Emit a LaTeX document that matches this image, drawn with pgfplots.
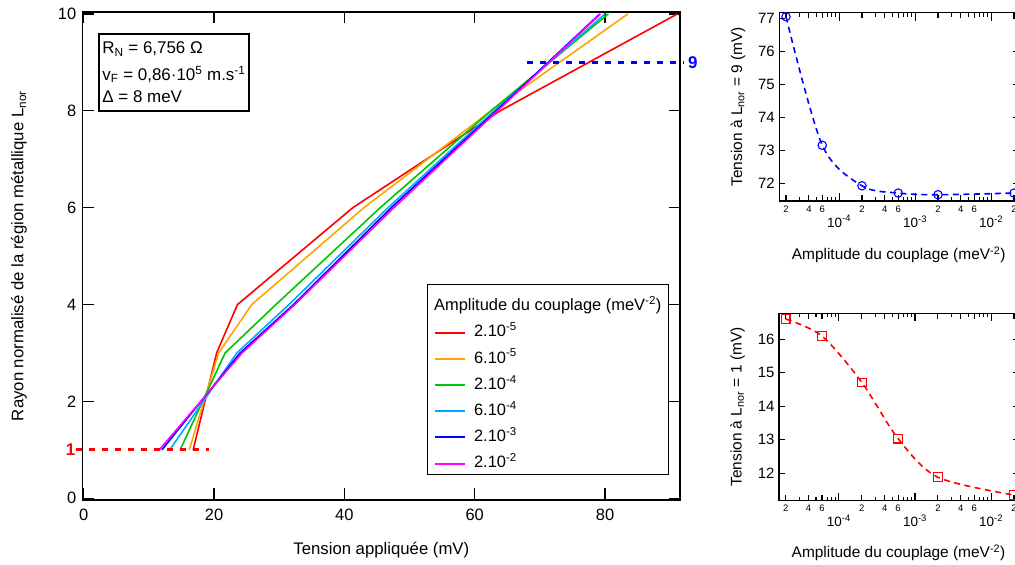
\documentclass[border=0pt]{standalone}
\usepackage{fontspec}
\setmainfont{Liberation Sans}
\usepackage{pgfplots}
\pgfplotsset{compat=1.18}
\definecolor{cRed}{RGB}{255,0,0}
\definecolor{cOrange}{RGB}{255,165,0}
\definecolor{cGreen}{RGB}{0,200,0}
\definecolor{cCyan}{RGB}{0,170,255}
\definecolor{cBlue}{RGB}{0,0,255}
\definecolor{cMag}{RGB}{255,0,255}
\newcommand{\fs}[1]{\fontsize{#1}{#1}\selectfont}

\pgfplotstableread{
x y
16.8 1
20.4 3
23.6 4
41.3 6
63.9 8
91.1 10
}\tRed
\pgfplotstableread{
x y
16.2 1
20.7 3
25.8 4
43.0 6
62.5 8
83.5 10
}\tOrange
\pgfplotstableread{
x y
14.8 1
21.7 3
29.5 4
45.5 6
62.5 8
80.5 10
}\tGreen
\pgfplotstableread{
x y
13.2 1
23.5 3
31.5 4
46.7 6
63.0 8
80.0 10
}\tCyan
\pgfplotstableread{
x y
12.0 1
24.0 3
32.2 4
47.2 6
63.3 8
79.2 10
}\tBlue
\pgfplotstableread{
x y
11.6 1
24.3 3
32.4 4
47.6 6
63.5 8
79.3 10
}\tMag
\pgfplotstableread{
x y
2e-5 77.05
6e-5 73.15
2e-4 71.92
6e-4 71.70
2e-3 71.65
2e-2 71.70
}\tNine
\pgfplotstableread{
x y
2e-5 16.60
6e-5 16.09
2e-4 14.71
6e-4 13.03
2e-3 11.88
2e-2 11.35
}\tOne

\begin{document}
\begin{tikzpicture}[x=1bp,y=1bp]
\begin{axis}[
  at={(82.7bp,65bp)}, anchor=south west,
  scale only axis, width=597.3bp, height=488bp,
  xmin=-0.15, xmax=91.5, ymin=-0.035, ymax=10.04,
  xtick={0,20,40,60,80}, ytick={0,2,4,6,8,10},
  tick align=inside, major tick length=11.5bp,
  axis line style={line width=1.5bp},
  every tick/.style={black, line width=1.4bp},
  /pgf/number format/assume math mode=true,
  tick label style={font=\fs{16.5}},
  xticklabel style={yshift=-6bp},
  yticklabel style={xshift=-3bp},
  xlabel={Tension appliquée (mV)},
  ylabel={Rayon normalisé de la région métallique L\textsubscript{nor}},
  xlabel style={font=\fs{16.8}, at={(axis description cs:0.5,-0.1025)}, anchor=center},
  ylabel style={font=\fs{16.8}, at={(axis description cs:-0.1066,0.5)}, anchor=center},
  clip=false,
  legend cell align=left,
  legend style={at={(axis description cs:0.576,0.4426)}, anchor=north west,
    draw=black, line width=1.3bp, font=\fs{16.5},
    inner xsep=7bp, inner ysep=3bp, row sep=10.7bp, column sep=7.7bp,
    nodes={inner sep=0bp, text height=12bp, text depth=3.5bp}},
  legend image code/.code={\draw[#1, line width=2bp] (0bp,0bp) -- (30bp,0bp);},
]
\addlegendimage{empty legend}
\addlegendentry[text height=23bp]{\hspace{-40bp}Amplitude du couplage (meV\textsuperscript{-2})}
\addplot[cRed, line width=1.6bp] table {\tRed};
\addlegendentry{2.10\textsuperscript{-5}}
\addplot[cOrange, line width=1.6bp] table {\tOrange};
\addlegendentry{6.10\textsuperscript{-5}}
\addplot[cGreen, line width=1.6bp] table {\tGreen};
\addlegendentry{2.10\textsuperscript{-4}}
\addplot[cCyan, line width=1.6bp] table {\tCyan};
\addlegendentry{6.10\textsuperscript{-4}}
\addplot[cBlue, line width=1.6bp] table {\tBlue};
\addlegendentry{2.10\textsuperscript{-3}}
\addplot[cMag, line width=1.6bp] table {\tMag};
\addlegendentry{2.10\textsuperscript{-2}}
\addplot[cRed, line width=3bp, dash pattern=on 6.5bp off 6.5bp, forget plot] coordinates {(-1.2,1) (19.3,1)};
\addplot[cBlue, line width=3bp, dash pattern=on 6.5bp off 6.5bp, forget plot] coordinates {(68,9) (92.1,9)};
\node[text=cRed, font=\fs{17}\bfseries] at (axis cs:-2.0,1) {1};
\node[text=cBlue, font=\fs{17}\bfseries] at (axis cs:93.45,9) {9};
\node[draw=black, line width=1.3bp, anchor=north west, align=left,
  font=\fontsize{17}{22.6}\selectfont, inner xsep=3.5bp, inner ysep=8bp]
  at (axis cs:2.24,9.6)
  {R\textsubscript{N} = 6,756 Ω\\[4.1bp]
   v\textsubscript{F} = 0,86·10\textsuperscript{5} m.s\textsuperscript{-1}\\
   Δ = 8 meV};
\end{axis}

\begin{axis}[
  at={(779.3bp,364bp)}, anchor=south west,
  scale only axis, width=238.7bp, height=188.3bp,
  xmode=log, xmin=1.633e-5, xmax=2.26e-2,
  ymin=71.46, ymax=77.17, ytick={72,73,74,75,76,77},
  tick align=inside,
  major tick length=5.5bp, minor tick length=4bp,
  axis line style={line width=1.3bp},
  every tick/.style={black, line width=1.1bp},
  /pgf/number format/assume math mode=true,
  tick label style={font=\fs{15}},
  xtick={2e-5,4e-5,6e-5,2e-4,4e-4,6e-4,2e-3,4e-3,6e-3,2e-2},
  xticklabels={2,4,6,2,4,6,2,4,6,2},
  xticklabel style={font=\fs{9.5}, yshift=-1bp},
  minor xtick={3e-5,5e-5,7e-5,8e-5,9e-5,3e-4,5e-4,7e-4,8e-4,9e-4,3e-3,5e-3,7e-3,8e-3,9e-3},
  extra x ticks={1e-4,1e-3,1e-2},
  extra x tick labels={10\textsuperscript{-4},10\textsuperscript{-3},10\textsuperscript{-2}},
  extra x tick style={major tick length=8bp, xticklabel style={font=\fs{13.5}, yshift=-10bp}},
  yticklabel style={xshift=-1bp},
  xlabel={Amplitude du couplage (meV\textsuperscript{-2})},
  ylabel={Tension à L\textsubscript{nor} = 9 (mV)},
  xlabel style={font=\fs{15.5}, anchor=center, at={(axis description cs:0.5,-0.287)}},
  ylabel style={font=\fs{15.5}, anchor=center, at={(axis description cs:-0.173,0.5)}},
  clip=false,
]
\addplot[cBlue, line width=1.6bp, dash pattern=on 6bp off 4.5bp, smooth,
  mark=o, mark size=4.2bp, mark options={solid, line width=1.1bp}] table {\tNine};
\end{axis}

\begin{axis}[
  at={(779bp,64.3bp)}, anchor=south west,
  scale only axis, width=239bp, height=187.4bp,
  xmode=log, xmin=1.633e-5, xmax=2.26e-2,
  ymin=11.18, ymax=16.77, ytick={12,13,14,15,16},
  tick align=inside,
  major tick length=5.5bp, minor tick length=4bp,
  axis line style={line width=1.3bp},
  every tick/.style={black, line width=1.1bp},
  /pgf/number format/assume math mode=true,
  tick label style={font=\fs{15}},
  xtick={2e-5,4e-5,6e-5,2e-4,4e-4,6e-4,2e-3,4e-3,6e-3,2e-2},
  xticklabels={2,4,6,2,4,6,2,4,6,2},
  xticklabel style={font=\fs{9.5}, yshift=-1bp},
  minor xtick={3e-5,5e-5,7e-5,8e-5,9e-5,3e-4,5e-4,7e-4,8e-4,9e-4,3e-3,5e-3,7e-3,8e-3,9e-3},
  extra x ticks={1e-4,1e-3,1e-2},
  extra x tick labels={10\textsuperscript{-4},10\textsuperscript{-3},10\textsuperscript{-2}},
  extra x tick style={major tick length=8bp, xticklabel style={font=\fs{13.5}, yshift=-10bp}},
  yticklabel style={xshift=-1bp},
  xlabel={Amplitude du couplage (meV\textsuperscript{-2})},
  ylabel={Tension à L\textsubscript{nor} = 1 (mV)},
  xlabel style={font=\fs{15.5}, anchor=center, at={(axis description cs:0.5,-0.279)}},
  ylabel style={font=\fs{15.5}, anchor=center, at={(axis description cs:-0.173,0.5)}},
  clip=false,
]
\addplot[cRed, line width=1.6bp, dash pattern=on 6bp off 4.5bp, smooth,
  mark=square, mark size=4.3bp, mark options={solid, line width=1.1bp}] table {\tOne};
\end{axis}

\pgfresetboundingbox
\path[use as bounding box] (0,0) rectangle (1015,565);
\end{tikzpicture}
\end{document}
